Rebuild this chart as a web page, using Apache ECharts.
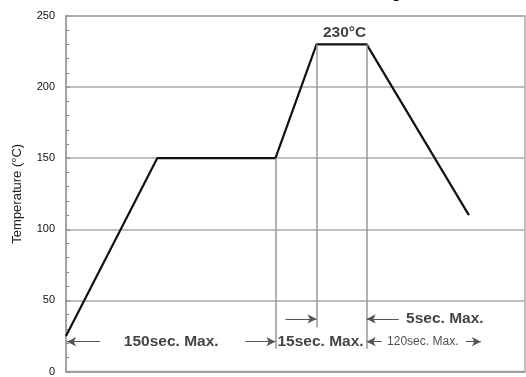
<!DOCTYPE html>
<html>
<head>
<meta charset="utf-8">
<script src="https://cdn.jsdelivr.net/npm/echarts@6/dist/echarts.min.js"></script>
<style>html,body{margin:0;padding:0;background:#fff}#c{width:526px;height:377px}</style>
</head>
<body>
<div id="c"></div>
<script>
// Profile (x in relative time units, y in °C)
const timeSec = [0, 91, 209, 250, 300, 402];
const tempC = [25, 150, 150, 230, 230, 110];
const yTicks = [0, 50, 100, 150, 200, 250];

// vertical guide lines
const guideX = [209, 250, 300];
const guideTopC = [150, 230, 230];
const guideBottomC = [16, 31, 16];

// dimension arrows (start -> end, head at end)
const arrowStartX = [34, 179, 315, 399, 219, 332];
const arrowEndX = [1, 209, 300, 414, 250, 300];
const arrowTemp = [21, 21, 21, 21, 37, 37];

// annotation labels
const labelText = ['230°C', '150sec. Max.', '15sec. Max.', '120sec. Max.', '5sec. Max.'];
const labelX = [278, 105, 254, 356, 378];
const labelTemp = [238, 21, 21, 21, 37];
const labelSmall = [false, false, false, true, false];

const chart = echarts.init(document.getElementById('c'), null, {renderer: 'canvas'});

const guideLines = guideX.map((x, i) => [{coord: [x, guideTopC[i]]}, {coord: [x, guideBottomC[i]]}]);
const arrowLines = arrowStartX.map((x, i) => [{coord: [x, arrowTemp[i]]}, {coord: [arrowEndX[i], arrowTemp[i]]}]);

const font = '"Liberation Sans", Arial, Helvetica, sans-serif';

chart.setOption({
  animation: false,
  grid: {left: 66, right: 1, top: 16, bottom: 1, show: true, borderColor: '#aaa', borderWidth: 1.5, backgroundColor: 'transparent'},
  graphic: [{
    type: 'text', right: 125, top: -14,
    style: {text: 'Reflow Soldering', font: 'bold 15px ' + font, fill: '#111'}
  }],
  xAxis: {
    type: 'value', min: 0, max: 458,
    axisLine: {show: true, lineStyle: {color: '#999', width: 1.5}},
    axisTick: {show: false}, axisLabel: {show: false}, splitLine: {show: false}
  },
  yAxis: {
    type: 'value', min: 0, max: 250, interval: 50,
    name: 'Temperature (°C)', nameLocation: 'middle', nameGap: 42,
    nameTextStyle: {fontFamily: font, fontSize: 13, color: '#222'},
    axisLine: {show: true, lineStyle: {color: '#999', width: 1.5}},
    axisTick: {show: true, inside: true, length: 4, lineStyle: {color: '#999', width: 1.5}},
    minorTick: {show: true, splitNumber: 5, length: 3, lineStyle: {color: '#888', width: 1}},
    axisLabel: {margin: 11, fontFamily: font, fontSize: 11, color: '#111',
      formatter: v => yTicks.includes(v) ? String(v) : ''},
    splitLine: {show: true, lineStyle: {color: '#aaa', width: 1.5}}
  },
  series: [
    {
      type: 'line', data: [], silent: true,
      markLine: {
        silent: true, symbol: ['none', 'none'], animation: false,
        lineStyle: {color: '#999', width: 1.5, type: 'solid'},
        label: {show: false},
        data: guideLines
      }
    },
    {
      type: 'line', data: [], silent: true,
      markLine: {
        silent: true, symbol: ['none', 'arrow'], symbolSize: [7, 9], animation: false,
        lineStyle: {color: '#555', width: 1, type: 'solid'},
        label: {show: false},
        data: arrowLines
      }
    },
    {
      type: 'line', silent: true,
      data: timeSec.map((t, i) => [t, tempC[i]]),
      showSymbol: false, symbol: 'none',
      lineStyle: {color: '#111', width: 2.2}
    },
    {
      type: 'scatter', silent: true, symbol: 'circle', symbolSize: 1,
      itemStyle: {color: 'rgba(0,0,0,0)'},
      data: labelText.map((s, i) => ({
        value: [labelX[i], labelTemp[i]], name: s,
        label: labelSmall[i]
          ? {fontSize: 12, fontWeight: 'normal', color: '#222'}
          : {fontSize: 15.5, fontWeight: 'bold', color: '#111'}
      })),
      label: {show: true, position: 'inside', formatter: p => p.name, fontFamily: font}
    }
  ]
});
</script>
</body>
</html>
